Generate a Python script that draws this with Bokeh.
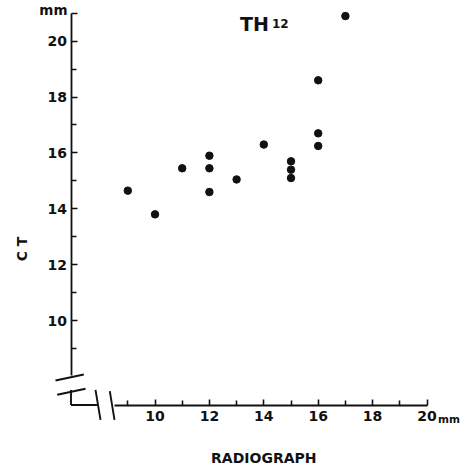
import math
from bokeh.plotting import figure
from bokeh.models import Range1d, FixedTicker, Label
from bokeh.embed import file_html
from bokeh.resources import INLINE

# ---- data ----
radiograph_mm = [9, 10, 11, 12, 12, 12, 13, 14, 15, 15, 15, 16, 16, 16, 17]
ct_mm = [14.65, 13.8, 15.45, 15.9, 15.45, 14.6, 15.05, 16.3, 15.7, 15.4, 15.1, 18.6, 16.7, 16.25, 20.9]

x_major_ticks = [10, 12, 14, 16, 18, 20]
x_minor_ticks = [9, 11, 13, 15, 17, 19]
y_major_ticks = [10, 12, 14, 16, 18, 20, 21]
y_minor_ticks = [9, 11, 13, 15, 17, 19]
y_label_overrides = {21: ""}

title_main = "TH"
title_sub = "12"
x_title = "RADIOGRAPH"
y_title = "C T"
unit_text = "mm"

# ---- layout: page pixel <-> data mapping ----
W, H = 467, 468
MARGIN = 0
X_PX_PER_UNIT = 27.2
Y_PX_PER_UNIT = 27.93
X10_PX = 154.5   # page x of x = 10
Y20_PX = 40.7    # page y of y = 20
BASE_SHIFT = 5   # correction for rendered text baseline


def px2x(px):
    return 10 + (px - X10_PX) / X_PX_PER_UNIT


def py2y(py):
    return 20 - (py - Y20_PX) / Y_PX_PER_UNIT


INK = "#111111"
FONT = "DejaVu Sans"

x0 = px2x(70.5)    # corner of the axes
y0 = py2y(404.5)

p = figure(width=W, height=H, output_backend="svg", toolbar_location=None,
           x_range=Range1d(px2x(MARGIN), px2x(MARGIN + W)),
           y_range=Range1d(py2y(MARGIN + H), py2y(MARGIN)),
           min_border=0, min_border_left=0, min_border_right=0,
           min_border_top=0, min_border_bottom=0)
p.outline_line_color = None
p.grid.visible = False
p.background_fill_color = "white"
p.border_fill_color = "white"

for ax in (p.xaxis[0], p.yaxis[0]):
    ax.axis_line_color = INK
    ax.axis_line_width = 1.8
    ax.major_tick_line_color = INK
    ax.minor_tick_line_color = INK
    ax.major_tick_line_width = 1.6
    ax.minor_tick_line_width = 1.6
    ax.major_tick_in = 6
    ax.major_tick_out = 0
    ax.minor_tick_in = 5
    ax.minor_tick_out = 0
    ax.major_label_text_font = FONT
    ax.major_label_text_font_style = "bold"
    ax.major_label_text_font_size = "14px"
    ax.major_label_text_color = INK

xa = p.xaxis[0]
xa.fixed_location = y0
xa.bounds = (px2x(114), 20)
xa.ticker = FixedTicker(ticks=x_major_ticks, minor_ticks=x_minor_ticks)
xa.major_label_standoff = 6

ya = p.yaxis[0]
ya.fixed_location = x0
ya.bounds = (py2y(375), 21)
ya.ticker = FixedTicker(ticks=y_major_ticks, minor_ticks=y_minor_ticks)
ya.major_label_overrides = y_label_overrides
ya.major_label_standoff = 4

# axis corner pieces and break marks
seg_x0 = [x0, x0, px2x(55), px2x(56.7), px2x(95), px2x(109.3)]
seg_y0 = [y0, y0, py2y(380), py2y(394.3), py2y(389.3), py2y(390.7)]
seg_x1 = [px2x(97), x0, px2x(83.3), px2x(85), px2x(100), px2x(114)]
seg_y1 = [y0, py2y(389.5), py2y(374), py2y(388.3), py2y(419.3), py2y(419.3)]
p.segment(seg_x0, seg_y0, seg_x1, seg_y1, line_color=INK, line_width=1.9)

# data points
p.scatter(radiograph_mm, ct_mm, marker="circle", size=7.5,
          fill_color=INK, line_color=INK)


def add_text(text, px, py, size, align="left"):
    p.add_layout(Label(x=px2x(px), y=py2y(py - BASE_SHIFT), text=text, text_align=align,
                       text_baseline="alphabetic", text_font=FONT,
                       text_font_style="bold", text_font_size=size, text_color=INK))


# texts
add_text(unit_text, 67, 14, "13.5px", "right")
add_text(unit_text, 437.5, 423.3, "10.5px")
add_text(x_title, 263.3, 462, "14px", "center")
add_text(title_main, 239.5, 28.3, "19px")
add_text(title_sub, 271.5, 28.3, "12px")
p.add_layout(Label(x=px2x(21.5), y=py2y(248.5), text=y_title, text_align="center",
                   text_baseline="middle", angle=math.pi / 2, text_font=FONT,
                   text_font_style="bold", text_font_size="14px", text_color=INK))

open("out.html", "w").write(file_html(p, INLINE))
